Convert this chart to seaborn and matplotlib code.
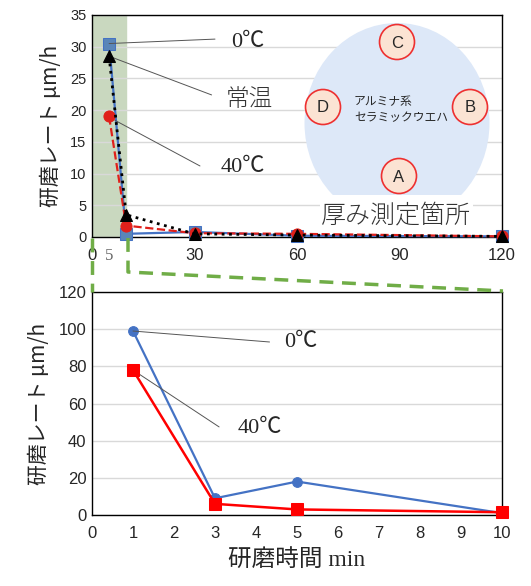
import pandas as pd
import seaborn as sns
import matplotlib.pyplot as plt
from matplotlib.patches import Ellipse, Circle, Rectangle

# データ（上：長時間、下：短時間）
top_x = [5, 10, 30, 60, 120]
top_0c = [30.5, 0.5, 0.8, 0.2, 0.1]
top_rt = [28.5, 3.5, 0.5, 0.3, 0.1]
top_40c = [19.0, 1.8, 0.6, 0.5, 0.1]

bot_x = [1, 3, 5, 10]
bot_0c = [99, 9, 18, 1]
bot_40c = [78, 6, 3, 1.5]

top_ticks = [0, 5, 30, 60, 90, 120]
top_ticklabels = ["0", "5", "30", "60", "90", "120"]

sns.set_style("white")
plt.rcParams["font.family"] = ["Liberation Sans", "Noto Sans CJK JP", "DejaVu Sans"]
JP = ["Noto Sans CJK JP", "DejaVu Sans"]
SERIF = ["Liberation Serif", "Noto Sans CJK JP", "DejaVu Sans"]

W, H = 531, 586
fig = plt.figure(figsize=(W / 100, H / 100), dpi=100)

def px_axes(x0, y0, x1, y1):
    return fig.add_axes([x0 / W, 1 - y1 / H, (x1 - x0) / W, (y1 - y0) / H])

ax1 = px_axes(92, 15, 502, 237)
ax2 = px_axes(92, 292, 502, 515)

# ---- 上のグラフ
ax1.axvspan(0, 10, color="#c9d8bf", zorder=0)
sns.lineplot(x=top_x, y=top_0c, ax=ax1, color="#4472c4", marker="s",
             markersize=8, markerfacecolor="#5a86b8", markeredgecolor="#4472c4",
             linestyle="-", lw=1.6, zorder=3, clip_on=False)
sns.lineplot(x=top_x, y=top_40c, ax=ax1, color="#e0201b", marker="o",
             markersize=8, markeredgecolor="#e0201b", linestyle="--", lw=1.6,
             zorder=4, clip_on=False)
sns.lineplot(x=top_x, y=top_rt, ax=ax1, color="black", marker="^",
             markersize=8, markeredgecolor="black", linestyle=":", lw=2,
             zorder=5, clip_on=False)
ax1.set_xlim(0, 120)
ax1.set_ylim(0, 35)
ax1.set_yticks(range(0, 36, 5))
ax1.set_xticks(top_ticks)
ax1.set_xticklabels(top_ticklabels, fontsize=12)
lab5 = ax1.get_xticklabels()[1]
lab5.set_color("#666666")
lab5.set_family(SERIF)
ax1.set_xticks(range(0, 121, 5), minor=True)
ax1.tick_params(axis="x", which="both", direction="in", length=4, width=0.8, pad=8)
ax1.tick_params(axis="y", length=0, labelsize=10.5, pad=4)
ax1.grid(axis="y", color="#d9d9d9", lw=1)
ax1.set_ylabel("研磨レート μm/h", fontsize=15, family=JP, labelpad=6)

ann = dict(arrowstyle="-", color="#555555", lw=0.7, shrinkA=0, shrinkB=0)
ax1.annotate("", xy=(5, 30.5), xytext=(36, 31.2), arrowprops=ann)
ax1.text(45.6, 30.7, "0℃", fontsize=16, family=SERIF, ha="center", va="center")
ax1.annotate("", xy=(5, 28.5), xytext=(35, 22.4), arrowprops=ann)
ax1.text(46.2, 21.6, "常温", fontsize=17, family=JP, ha="center", va="center",
         color="#333333", fontweight="light")
ax1.annotate("", xy=(6.7, 18.4), xytext=(31.6, 11.2), arrowprops=ann)
ax1.text(44.2, 11.0, "40℃", fontsize=16, family=SERIF, ha="center", va="center")

# ---- 下のグラフ
sns.lineplot(x=bot_x, y=bot_0c, ax=ax2, color="#4472c4", marker="o",
             markersize=7, markeredgecolor="#4472c4", lw=1.6, zorder=3, clip_on=False)
sns.lineplot(x=bot_x, y=bot_40c, ax=ax2, color="#ff0000", marker="s",
             markersize=8, markeredgecolor="#ff0000", lw=1.8, zorder=4, clip_on=False)
ax2.set_xlim(0, 10)
ax2.set_ylim(0, 120)
ax2.set_xticks(range(0, 11))
ax2.set_yticks(range(0, 121, 20))
ax2.tick_params(axis="x", direction="in", length=5, width=0.8, labelsize=12, pad=8)
ax2.tick_params(axis="y", length=0, labelsize=12, pad=4)
ax2.grid(axis="y", color="#d9d9d9", lw=1)
ax2.set_ylabel("研磨レート μm/h", fontsize=15, family=JP, labelpad=6)
ax2.set_xlabel("研磨時間 min", fontsize=17, family=SERIF, labelpad=6)
ax2.annotate("", xy=(1, 99), xytext=(4.33, 93.1), arrowprops=ann)
ax2.text(5.09, 92.6, "0℃", fontsize=16, family=SERIF, ha="center", va="center")
ax2.annotate("", xy=(1, 78), xytext=(3.1, 47.4), arrowprops=ann)
ax2.text(4.1, 46.8, "40℃", fontsize=16, family=SERIF, ha="center", va="center")

for a in (ax1, ax2):
    for s in a.spines.values():
        s.set_color("black")
        s.set_linewidth(1)

# ---- 装飾（ウエハ図と拡大の破線）
deco = fig.add_axes([0, 0, 1, 1], zorder=5)
deco.set_xlim(0, W)
deco.set_ylim(H, 0)
deco.axis("off")
deco.patch.set_alpha(0)

wafer = Ellipse((397, 123), 185, 200, facecolor="#dde8f8", edgecolor="none")
deco.add_patch(wafer)
wafer.set_clip_path(Rectangle((0, 0), W, 195, transform=deco.transData))
for lbl, cx, cy in [("C", 397, 42), ("D", 323, 107), ("B", 470, 107), ("A", 399, 176)]:
    deco.add_patch(Circle((cx, cy), 17.5, facecolor="#fbe3d3", edgecolor="#ee3030", lw=1.2))
    deco.text(cx, cy + 1, lbl, fontsize=12, ha="center", va="center")
deco.text(354, 110, "アルミナ系\nセラミックウエハ", fontsize=8.5, family=JP,
          ha="left", va="center", linespacing=1.3)
deco.text(396, 215, "厚み測定箇所", fontsize=18, family=JP, ha="center", va="center",
          color="#333333", fontweight="light",
          bbox=dict(facecolor="white", edgecolor="none", pad=1))

green = dict(color="#70ad47", lw=2.5, linestyle=(0, (4, 2.5)))
deco.plot([92, 92], [238, 292], **green)
deco.plot([128, 128, 503], [238, 272, 291], **green)

fig.savefig("out.png", dpi=100)
